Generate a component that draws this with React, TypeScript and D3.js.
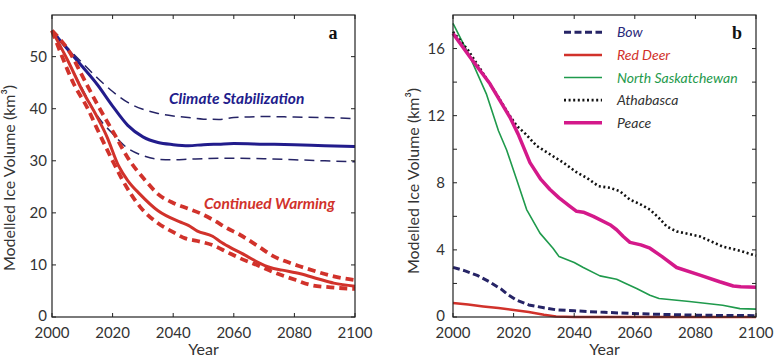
import React from "react";
import * as d3 from "d3";

// ---------- Panel a data ----------
const stabYears = [2000, 2005, 2010, 2015, 2020, 2025, 2030, 2035, 2040, 2045, 2050, 2055, 2060, 2070, 2080, 2090, 2100];
const stabMid = [55, 51.5, 48.1, 44.6, 40.5, 36.8, 34.6, 33.5, 33.1, 32.9, 33.1, 33.2, 33.3, 33.2, 33.1, 32.9, 32.75];
const stabHigh = [55, 51.8, 48.8, 45.9, 43.3, 41.2, 39.9, 39.1, 38.6, 38.3, 38.0, 37.95, 38.3, 38.5, 38.4, 38.3, 38.1];
const stabLow = [55, 49.5, 43.8, 38.6, 35.2, 32.4, 31.0, 30.3, 30.2, 30.3, 30.4, 30.5, 30.5, 30.4, 30.2, 30.0, 29.8];

const warmYears = [2000, 2005, 2010, 2015, 2018, 2022, 2025, 2029, 2035, 2042, 2045, 2048, 2053, 2056, 2060, 2064, 2068, 2072, 2076, 2082, 2088, 2093, 2100];
const warmMid = [55, 49.5, 43.5, 38.3, 34.8, 29.0, 26.2, 23.6, 20.4, 18.3, 17.6, 16.5, 15.5, 14.3, 13.0, 11.8, 10.5, 9.5, 9.0, 8.3, 7.3, 6.5, 5.9];
const warmHighYears = [2000, 2006, 2010, 2015, 2021, 2025, 2031, 2035, 2040, 2045, 2049, 2053, 2058, 2062, 2068, 2073, 2078, 2082, 2088, 2093, 2100];
const warmHigh = [55, 50.7, 46.3, 40.8, 34.7, 30.6, 26.1, 23.6, 21.9, 20.8, 19.9, 18.7, 17.0, 15.8, 13.6, 11.7, 10.5, 9.7, 8.6, 7.8, 7.1];
const warmLowYears = [2000, 2003, 2007, 2012, 2015, 2020, 2023, 2029, 2035, 2040, 2044, 2048, 2053, 2058, 2062, 2068, 2074, 2080, 2085, 2092, 2100];
const warmLow = [55, 50.5, 45.0, 39.8, 36.0, 30.0, 26.6, 21.2, 18.0, 16.3, 15.1, 14.6, 13.8, 12.4, 11.3, 9.9, 8.4, 7.2, 6.2, 5.7, 5.4];

// ---------- Panel b data ----------
const bowYears = [2000, 2004, 2008, 2012, 2016, 2018, 2021, 2025, 2030, 2034, 2040, 2045, 2050, 2055, 2062, 2070, 2080, 2090, 2100];
const bowVals = [2.96, 2.75, 2.48, 2.1, 1.65, 1.35, 1.0, 0.72, 0.55, 0.43, 0.37, 0.32, 0.28, 0.24, 0.19, 0.15, 0.11, 0.09, 0.08];

const redDeerYears = [2000, 2005, 2010, 2015, 2020, 2025, 2030, 2034, 2040, 2060, 2080, 2100];
const redDeerVals = [0.84, 0.74, 0.63, 0.53, 0.42, 0.3, 0.14, 0.03, 0.0, 0.0, 0.0, 0.0];

const nsYears = [2000, 2005.6, 2011, 2015, 2017.7, 2021, 2024.3, 2028.7, 2033, 2035, 2040, 2043, 2048.5, 2054, 2057, 2060.6, 2065, 2068, 2078, 2089, 2094.7, 2100];
const nsVals = [17.5, 15.5, 13.3, 11.1, 9.95, 8.2, 6.4, 5.0, 4.1, 3.6, 3.25, 2.95, 2.45, 2.25, 2.0, 1.7, 1.3, 1.1, 0.92, 0.7, 0.5, 0.47];

const athYears = [2000, 2005, 2010, 2015, 2018, 2021, 2024, 2027.6, 2032, 2036.4, 2041, 2044.1, 2048, 2051.8, 2055, 2058.4, 2062, 2065, 2068, 2070.5, 2073.8, 2081.5, 2089, 2094.7, 2100];
const athVals = [17.0, 15.9, 14.5, 13.1, 12.2, 11.4, 10.9, 10.2, 9.7, 9.2, 8.6, 8.3, 7.8, 7.7, 7.5, 7.0, 6.7, 6.4, 5.9, 5.4, 5.1, 4.8, 4.2, 3.95, 3.65];

const peaceYears = [2000, 2005.6, 2012.2, 2018.8, 2021.5, 2025.4, 2029, 2032, 2035, 2038.6, 2040.8, 2043, 2046.3, 2051.8, 2054, 2056.2, 2058.4, 2062, 2065, 2069, 2073.8, 2081.5, 2088, 2092.5, 2095, 2100];
const peaceVals = [16.9, 15.5, 13.9, 11.9, 10.9, 9.2, 8.2, 7.6, 7.1, 6.6, 6.3, 6.25, 6.0, 5.5, 5.2, 4.8, 4.45, 4.3, 4.1, 3.6, 2.95, 2.5, 2.1, 1.85, 1.8, 1.77];

// ---------- Axis ticks ----------
const yearTicks = [2000, 2020, 2040, 2060, 2080, 2100];
const aYTicks = [0, 10, 20, 30, 40, 50];
const bYTicks = [0, 2, 4, 6, 8, 10, 12, 14, 16];
const bYLabels = [0, 4, 8, 12, 16];

const legendNames = ["Bow", "Red Deer", "North Saskatchewan", "Athabasca", "Peace"];

const FONT = "Lato, 'Open Sans', sans-serif";
const NAVY = "#221c8c";
const NAVY_DASH = "#262466";
const RED = "#d1322b";
const GREEN = "#1f9a4c";
const MAGENTA = "#d4198a";
const INK = "#333";

type Series = {
  years: number[];
  vals: number[];
  color: string;
  width: number;
  dash?: string;
  curve?: d3.CurveFactory;
};

function Panel(props: {
  x0: number;
  x1: number;
  y0: number;
  y1: number;
  ymax: number;
  yTicks: number[];
  yLabels: number[];
  labelGap: number;
  series: Series[];
  letter: string;
  letterX: number;
  yLabelX: number;
  yLabelY: number;
}) {
  const { x0, x1, y0, y1, ymax, yTicks, yLabels, labelGap, series, letter, letterX, yLabelX, yLabelY } = props;
  const x = d3.scaleLinear().domain([2000, 2100]).range([x0, x1]);
  const y = d3.scaleLinear().domain([0, ymax]).range([y1, y0]);
  const tl = 4;
  return (
    <g>
      {series.map((s, i) => {
        const pts: [number, number][] = s.years.map((yr, j) => [yr, s.vals[j]]);
        const line = d3
          .line<[number, number]>()
          .x((d) => x(d[0]))
          .y((d) => y(d[1]))
          .curve(s.curve || d3.curveLinear);
        return (
          <path
            key={i}
            d={line(pts) || ""}
            fill="none"
            stroke={s.color}
            strokeWidth={s.width}
            strokeDasharray={s.dash}
            strokeLinejoin="round"
          />
        );
      })}
      <rect x={x0} y={y0} width={x1 - x0} height={y1 - y0} fill="none" stroke="#222" strokeWidth={1.2} />
      {yearTicks.map((t) => (
        <g key={"xt" + t}>
          <line x1={x(t)} x2={x(t)} y1={y1} y2={y1 - tl} stroke="#222" strokeWidth={1} />
          <line x1={x(t)} x2={x(t)} y1={y0} y2={y0 + tl} stroke="#222" strokeWidth={1} />
          <text x={x(t)} y={338} textAnchor="middle" fontFamily={FONT} fontSize={15} fill={INK}>
            {t}
          </text>
        </g>
      ))}
      {yTicks.map((t) => (
        <g key={"yt" + t}>
          <line x1={x0} x2={x0 + tl} y1={y(t)} y2={y(t)} stroke="#222" strokeWidth={1} />
          <line x1={x1} x2={x1 - tl} y1={y(t)} y2={y(t)} stroke="#222" strokeWidth={1} />
        </g>
      ))}
      {yLabels.map((t) => (
        <text
          key={"yl" + t}
          x={x0 - labelGap}
          y={y(t) + (t === 0 ? 4 : 5)}
          textAnchor="end"
          fontFamily={FONT}
          fontSize={15}
          fill={INK}
        >
          {t}
        </text>
      ))}
      <text x={(x0 + x1) / 2} y={355} textAnchor="middle" fontFamily={FONT} fontSize={16} fill={INK}>
        Year
      </text>
      <text
        transform={`translate(${yLabelX},${yLabelY}) rotate(-90)`}
        textAnchor="middle"
        fontFamily={FONT}
        fontSize={16}
        fill={INK}
      >
        Modelled Ice Volume (km³)
      </text>
      <text
        x={letterX}
        y={39}
        textAnchor="middle"
        fontFamily="'Liberation Serif', 'Times New Roman', serif"
        fontWeight="bold"
        fontSize={18}
        fill="#111"
      >
        {letter}
      </text>
    </g>
  );
}

export default function App() {
  const mono = d3.curveMonotoneX;
  const seriesA: Series[] = [
    { years: stabYears, vals: stabHigh, color: NAVY_DASH, width: 1.5, dash: "10,6", curve: mono },
    { years: stabYears, vals: stabLow, color: NAVY_DASH, width: 1.5, dash: "10,6", curve: mono },
    { years: stabYears, vals: stabMid, color: NAVY, width: 3, curve: mono },
    { years: warmHighYears, vals: warmHigh, color: RED, width: 3.8, dash: "8,5", curve: mono },
    { years: warmLowYears, vals: warmLow, color: RED, width: 3.8, dash: "8,5", curve: mono },
    { years: warmYears, vals: warmMid, color: RED, width: 3, curve: mono },
  ];
  const seriesB: Series[] = [
    { years: redDeerYears, vals: redDeerVals, color: RED, width: 2.5 },
    { years: nsYears, vals: nsVals, color: GREEN, width: 1.6 },
    { years: athYears, vals: athVals, color: "#111", width: 2.6, dash: "2,2.6" },
    { years: peaceYears, vals: peaceVals, color: MAGENTA, width: 3.5 },
    { years: bowYears, vals: bowVals, color: NAVY_DASH, width: 3, dash: "7,3.5" },
  ];
  const legendStyles = [
    { color: NAVY_DASH, width: 3, dash: "7,3.5", text: "#2a2a7a" },
    { color: RED, width: 2.5, dash: undefined, text: RED },
    { color: GREEN, width: 1.6, dash: undefined, text: GREEN },
    { color: "#111", width: 2.6, dash: "2,2.6", text: INK },
    { color: MAGENTA, width: 3.5, dash: undefined, text: INK },
  ];
  const legY = d3.scaleLinear().domain([0, 4]).range([32.3, 122.7]);
  return (
    <svg
      width={780}
      height={357}
      style={{ position: "absolute", left: 0, top: 0, background: "#fff" }}
      xmlns="http://www.w3.org/2000/svg"
    >
      <rect width={780} height={357} fill="#fff" />
      <Panel
        x0={52}
        x1={355}
        y0={15}
        y1={317}
        ymax={58}
        yTicks={aYTicks}
        yLabels={aYTicks}
        labelGap={5}
        series={seriesA}
        letter="a"
        letterX={333}
        yLabelX={15}
        yLabelY={178}
      />
      <text x={169} y={104} fontFamily={FONT} fontStyle="italic" fontWeight="bold" fontSize={15.5} fill={NAVY}>
        Climate Stabilization
      </text>
      <text x={204} y={209} fontFamily={FONT} fontStyle="italic" fontWeight="bold" fontSize={15.5} fill={RED}>
        Continued Warming
      </text>
      <Panel
        x0={453}
        x1={756}
        y0={15}
        y1={317}
        ymax={18}
        yTicks={bYTicks}
        yLabels={bYLabels}
        labelGap={8}
        series={seriesB}
        letter="b"
        letterX={737}
        yLabelX={419}
        yLabelY={181}
      />
      {legendNames.map((n, i) => (
        <g key={n}>
          <line
            x1={564}
            x2={602}
            y1={legY(i)}
            y2={legY(i)}
            stroke={legendStyles[i].color}
            strokeWidth={legendStyles[i].width}
            strokeDasharray={legendStyles[i].dash}
          />
          <text x={617} y={legY(i) + 5} fontFamily={FONT} fontStyle="italic" fontSize={14} fill={legendStyles[i].text}>
            {n}
          </text>
        </g>
      ))}
    </svg>
  );
}
